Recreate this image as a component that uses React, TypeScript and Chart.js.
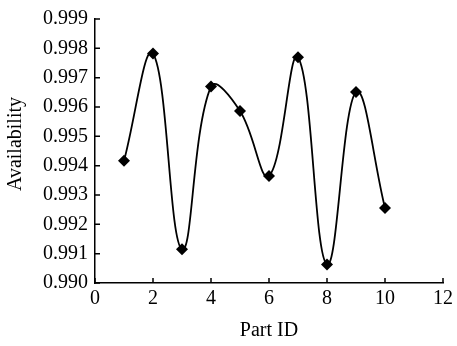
import React, { useEffect, useRef } from "react";
import { Chart, registerables } from "chart.js";

Chart.register(...registerables);

const partIds = [1, 2, 3, 4, 5, 6, 7, 8, 9, 10];
const availability = [0.99417, 0.99782, 0.99115, 0.9967, 0.99586, 0.99365, 0.9977, 0.99063, 0.99651, 0.99256];
const xTickValues = [0, 2, 4, 6, 8, 10, 12];
const yTickValues = [0.99, 0.991, 0.992, 0.993, 0.994, 0.995, 0.996, 0.997, 0.998, 0.999];
const xTitle = "Part ID";
const yTitle = "Availability";

const FONT = "'Liberation Serif', 'Times New Roman', serif";

const inwardTicks = {
  id: "inwardTicks",
  afterDraw(chart: any) {
    const { ctx, chartArea } = chart;
    const xs = chart.scales.x;
    const ys = chart.scales.y;
    ctx.save();
    ctx.strokeStyle = "#000";
    ctx.lineWidth = 1.5;
    ctx.beginPath();
    xTickValues.forEach((v) => {
      const px = xs.getPixelForValue(v);
      ctx.moveTo(px, chartArea.bottom);
      ctx.lineTo(px, chartArea.bottom - 5);
    });
    yTickValues.forEach((v) => {
      const py = ys.getPixelForValue(v);
      ctx.moveTo(chartArea.left, py);
      ctx.lineTo(chartArea.left + 5, py);
    });
    ctx.stroke();
    // y-axis title, placed slightly above the plot's vertical centre as in the reference
    ctx.fillStyle = "#000";
    ctx.font = `20px ${FONT}`;
    ctx.textAlign = "center";
    ctx.textBaseline = "middle";
    ctx.translate(16, (chartArea.top + chartArea.bottom) / 2 - 7);
    ctx.rotate(-Math.PI / 2);
    ctx.fillText(yTitle, 0, 0);
    ctx.restore();
  },
};

export default function App() {
  const ref = useRef<HTMLCanvasElement | null>(null);
  useEffect(() => {
    document.body.style.margin = "0";
    const canvas = ref.current!;
    const chart = new Chart(canvas, {
      type: "line",
      data: {
        datasets: [
          {
            data: partIds.map((x, i) => ({ x, y: availability[i] })),
            borderColor: "#000",
            backgroundColor: "#000",
            borderWidth: 1.8,
            tension: 0.4,
            pointStyle: "rectRot",
            pointRadius: 6,
            pointBorderWidth: 0,
            fill: false,
          },
        ],
      },
      options: {
        animation: false,
        responsive: false,
        maintainAspectRatio: false,
        layout: { padding: { top: 16, right: 11, left: 0, bottom: 0 } },
        plugins: { legend: { display: false }, tooltip: { enabled: false } },
        scales: {
          x: {
            type: "linear",
            min: 0,
            max: 12,
            afterFit(s: any) {
              s.height = 63;
            },
            afterBuildTicks(s: any) {
              s.ticks = xTickValues.map((v) => ({ value: v }));
            },
            grid: { display: false, drawTicks: false },
            border: { display: true, color: "#000", width: 1.5 },
            ticks: {
              color: "#000",
              padding: 4,
              font: { family: FONT, size: 20 },
              maxRotation: 0,
            },
            title: {
              display: true,
              text: xTitle,
              color: "#000",
              font: { family: FONT, size: 20 },
              padding: { top: 0, bottom: 3 },
            },
          },
          y: {
            type: "linear",
            min: 0.99,
            max: 0.999,
            afterFit(s: any) {
              s.width = 95;
            },
            afterBuildTicks(s: any) {
              s.ticks = yTickValues.map((v) => ({ value: v }));
            },
            grid: { display: false, drawTicks: false },
            border: { display: true, color: "#000", width: 1.5 },
            ticks: {
              color: "#000",
              padding: 7,
              font: { family: FONT, size: 20 },
              callback: (v: any) => Number(v).toFixed(3),
            },
            title: { display: false },
          },
        },
      },
      plugins: [inwardTicks],
    });
    return () => chart.destroy();
  }, []);
  return <canvas ref={ref} width={457} height={346} style={{ display: "block" }} />;
}
